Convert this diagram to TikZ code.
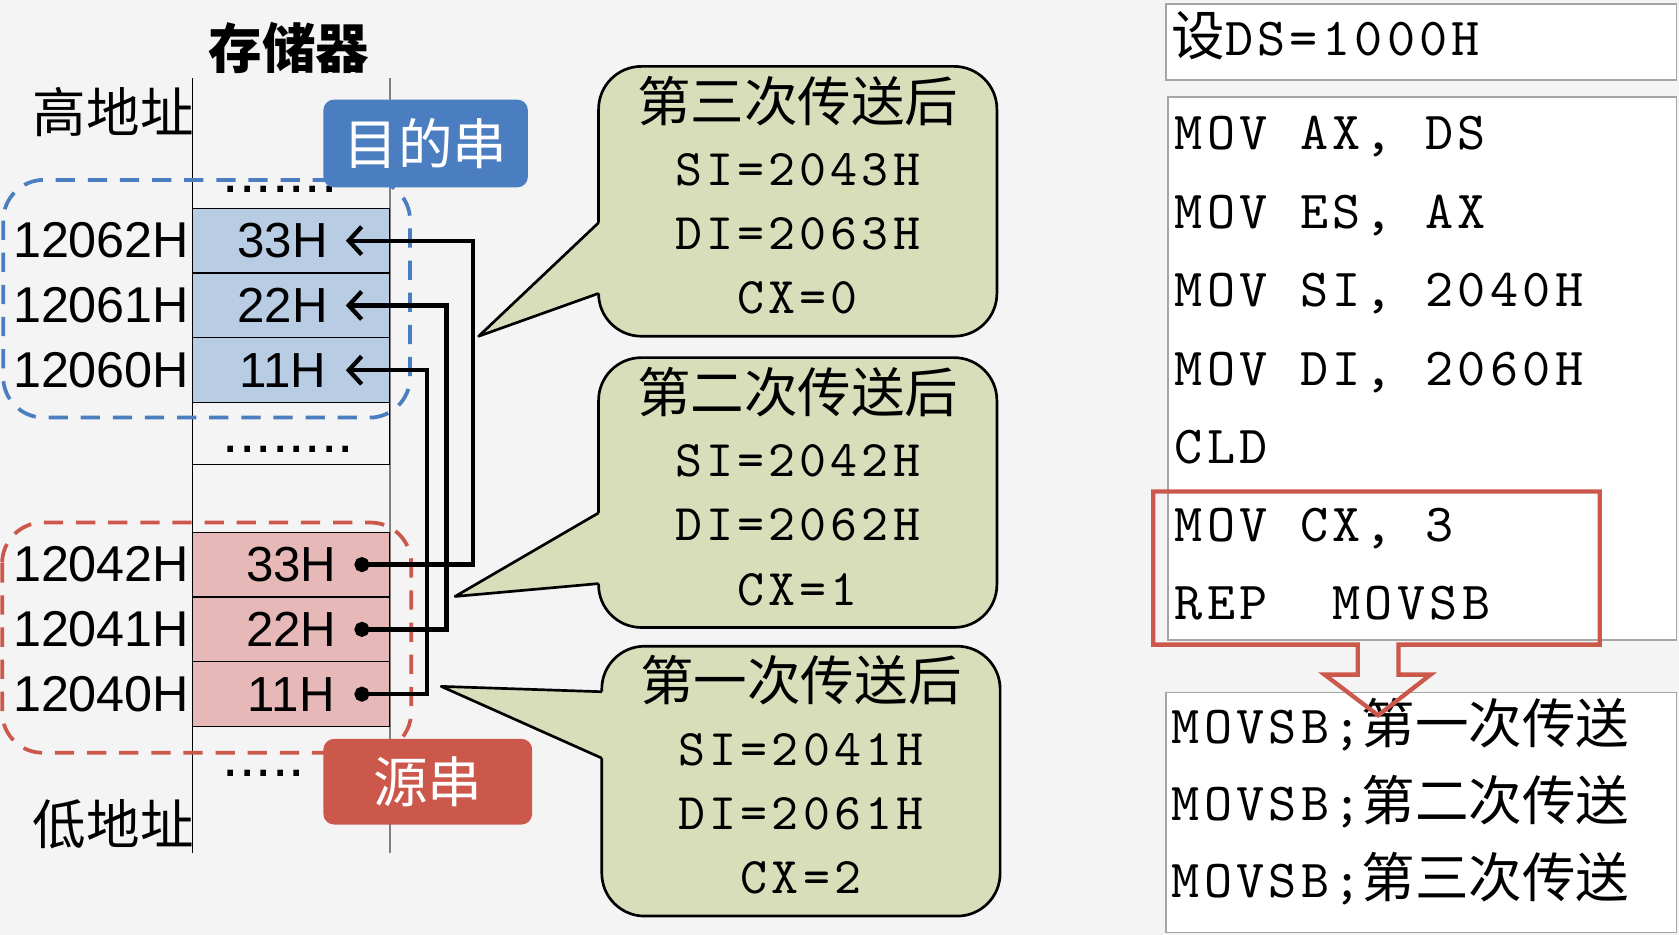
\documentclass[tikz,border=0pt]{standalone}
\usepackage{fontspec}
\setmainfont{Liberation Sans}
\setmonofont{lmmono10-regular.otf}[LetterSpace=8]
\newfontfamily\cjk{Noto Sans CJK SC}
\usepackage{xcolor}
\usetikzlibrary{positioning, arrows.meta}
\frenchspacing

\definecolor{pagebg}{RGB}{244,244,244}
\definecolor{dstfill}{RGB}{184,204,228}
\definecolor{srcfill}{RGB}{230,185,184}
\definecolor{dstblue}{RGB}{74,126,192}
\definecolor{srcred}{RGB}{204,88,76}
\definecolor{bubblefill}{RGB}{216,222,186}
\definecolor{boxgray}{RGB}{165,165,165}

\begin{document}
\begin{tikzpicture}[x=1pt, y=-1pt]
            % Styles
            \tikzstyle{cell} = [rectangle, draw, line width=1.2pt, minimum width=184pt, minimum height=60.5pt, inner sep=0pt, outer sep=0pt, font=\fontsize{46}{50}\selectfont]
            \tikzstyle{dst} = [fill=dstfill, execute at end node={\hspace*{16pt}}]
            \tikzstyle{src} = [fill=srcfill]
            \tikzstyle{addr} = [inner sep=0pt, font=\fontsize{47}{50}\selectfont]
            \tikzstyle{endlabel} = [inner sep=0pt, font=\cjk\fontsize{50}{60}\selectfont]
            \tikzstyle{tag} = [rectangle, rounded corners=10pt, text=white, inner sep=0pt, font=\cjk\fontsize{51}{60}\selectfont]
            \tikzstyle{dotrow} = [inner sep=0pt, anchor=base west, font=\fontsize{55}{55}\selectfont]
            \tikzstyle{strgroup} = [line width=3.5pt, rounded corners=38pt, dash pattern=on 18pt off 12pt]
            \tikzstyle{copyline} = [line width=4pt, {Circle[length=14pt]}-{Straight Barb[length=12pt,width=26pt]}]
            \tikzstyle{bubble} = [rectangle, draw, line width=2.5pt, fill=bubblefill, rounded corners=40pt, minimum width=372pt, minimum height=252pt, align=center, text depth=12pt, font=\ttfamily\fontsize{48}{60}\selectfont]
            \tikzstyle{listbox} = [rectangle, draw=boxgray, line width=1.5pt, fill=white, inner sep=0pt, anchor=north west]
            \tikzstyle{asm} = [inner sep=0pt, anchor=base west, font=\ttfamily\fontsize{50}{60}\selectfont]

            % Page
            \fill[pagebg] (0,0) rectangle (1568,873);
            \useasboundingbox (0,0) rectangle (1568,873);

            % Memory column
            \node[inner sep=0pt, font=\cjk\bfseries\fontsize{50}{60}\selectfont] (memtitle) at (270,45) {存储器};
            \coordinate (coltl) at (180,73);
            \coordinate (colbl) at (180,797);
            \coordinate (coltr) at (364,73);
            \coordinate (colbr) at (364,797);
            \draw[line width=1.4pt] (coltl) -- (colbl);
            \draw[line width=1.4pt, gray] (coltr) -- (colbr);
            \node[endlabel, anchor=east] (high) at (181,105) {高地址};
            \node[endlabel, anchor=east] (low) at (181,770) {低地址};

            % Destination string
            \node[cell, dst] (d33) at (272,224.75) {33H};
            \node[cell, dst, below=0pt of d33] (d22) {22H};
            \node[cell, dst, below=0pt of d22] (d11) {11H};
            \node[cell, minimum height=58pt, below=0pt of d11] (gap) {};

            % Source string
            \node[cell, src, below=63pt of gap] (s33) {33H};
            \node[cell, src, below=0pt of s33] (s22) {22H};
            \node[cell, src, below=0pt of s22] (s11) {11H};

            % Addresses
            \node[addr, left=3pt of d33] (a62) {12062H};
            \node[addr, left=3pt of d22] (a61) {12061H};
            \node[addr, left=3pt of d11] (a60) {12060H};
            \node[addr, left=3pt of s33] (a42) {12042H};
            \node[addr, left=3pt of s22] (a41) {12041H};
            \node[addr, left=3pt of s11] (a40) {12040H};

            % Ellipsis rows
            \node[dotrow] (dtop) at (208,180) {.......};
            \node[dotrow] (dmid) at (208,423) {........};
            \node[dotrow] (dbot) at (208,725) {.....};

            % String groups
            \draw[strgroup, dstblue] (3,168) rectangle (383,390);
            \draw[strgroup, srcred] (2,488) rectangle (384,703);
            \node[tag, fill=dstblue, minimum width=191pt, minimum height=82pt] (dsttag) at (397.5,134) {目的串};
            \node[tag, fill=srcred, minimum width=195pt, minimum height=80pt] (srctag) at (399.5,730) {源串};

            % Byte transfers
            \draw[copyline] ([xshift=-33pt]s33.east) -- ++(111pt,0pt) |- ([xshift=-41pt]d33.east);
            \draw[copyline] ([xshift=-33pt]s22.east) -- ++(86pt,0pt) |- ([xshift=-41pt]d22.east);
            \draw[copyline] ([xshift=-33pt]s11.east) -- ++(68pt,0pt) |- ([xshift=-41pt]d11.east);

            % Register states
            \node[bubble] (after3) at (745,188) {{\cjk\fontsize{50}{60}\selectfont 第三次传送后}\\SI=2043H\\DI=2063H\\CX=0};
            \fill[bubblefill] (447,314) -- (559,208) -- (566,208) -- (566,274) -- (559,274) -- cycle;
            \draw[line width=2.5pt, line join=round] (559,208) -- (447,314) -- (559,274);

            \node[bubble] (after2) at (745,460) {{\cjk\fontsize{50}{60}\selectfont 第二次传送后}\\SI=2042H\\DI=2062H\\CX=1};
            \fill[bubblefill] (425,557) -- (559,479) -- (566,479) -- (566,545) -- (559,545) -- cycle;
            \draw[line width=2.5pt, line join=round] (559,479) -- (425,557) -- (559,545);

            \node[bubble] (after1) at (748,729.5) {{\cjk\fontsize{50}{60}\selectfont 第一次传送后}\\SI=2041H\\DI=2061H\\CX=2};
            \fill[bubblefill] (412,641) -- (562,646) -- (569,646) -- (569,708) -- (562,708) -- cycle;
            \draw[line width=2.5pt, line join=round] (562,646) -- (412,641) -- (562,708);

            % Program listing
            \node[listbox, minimum width=477pt, minimum height=71pt] (givenbox) at (1088,3) {};
            \node[asm] (given) at (1094,52) {{\cjk 设}DS=1000H};

            \node[listbox, minimum width=475pt, minimum height=507pt] (codebox) at (1090,90) {};
            \node[asm] (c1) at (1097,140) {MOV AX, DS};
            \node[asm] (c2) at (1097,213) {MOV ES, AX};
            \node[asm] (c3) at (1097,286) {MOV SI, 2040H};
            \node[asm] (c4) at (1097,360) {MOV DI, 2060H};
            \node[asm] (c5) at (1097,433) {CLD};
            \node[asm] (c6) at (1097,506) {MOV CX, 3};
            \node[asm] (c7) at (1097,579) {REP\ \ MOVSB};

            % Expansion of REP MOVSB
            \node[listbox, minimum width=477pt, minimum height=224pt] (expandbox) at (1088,646) {};
            \node[asm] (e1) at (1094,694) {MOVSB;{\cjk 第一次传送}};
            \node[asm] (e2) at (1094,766) {MOVSB;{\cjk 第二次传送}};
            \node[asm] (e3) at (1094,838) {MOVSB;{\cjk 第三次传送}};

            % Highlight opening into a hollow arrow
            \draw[srcred, line width=4pt, line join=miter] (1077,459) -- (1494,459) -- (1494,602) -- (1306,602) -- (1306,630) -- (1336,630) -- (1287,668) -- (1237,630) -- (1268,630) -- (1268,602) -- (1077,602) -- cycle;
\end{tikzpicture}
\end{document}
